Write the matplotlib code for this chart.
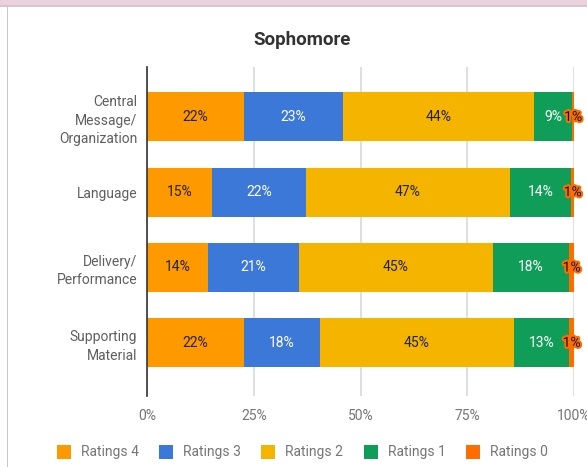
import matplotlib
matplotlib.use("Agg")
import matplotlib.pyplot as plt
import matplotlib.patheffects as pe
from matplotlib.patches import Rectangle
import numpy as np

plt.rcParams['font.family'] = ['Roboto', 'DejaVu Sans']

categories = ["Central\nMessage/\nOrganization", "Language", "Delivery/\nPerformance", "Supporting\nMaterial"]
series_names = ["Ratings 4", "Ratings 3", "Ratings 2", "Ratings 1", "Ratings 0"]
# segment shares (percent of each row)
ratings4 = [22.7, 15.2, 14.3, 22.7]
ratings3 = [23.3, 22.0, 21.3, 17.8]
ratings2 = [44.7, 47.8, 45.4, 45.4]
ratings1 = [9.1, 14.4, 17.9, 13.0]
ratings0 = [0.4, 0.6, 1.1, 1.1]
# labels as displayed on the bars
labels4 = ["22%", "15%", "14%", "22%"]
labels3 = ["23%", "22%", "21%", "18%"]
labels2 = ["44%", "47%", "45%", "45%"]
labels1 = ["9%", "14%", "18%", "13%"]
labels0 = ["1%", "1%", "1%", "1%"]
xticks = [0, 25, 50, 75, 100]
xtick_labels = ["0%", "25%", "50%", "75%", "100%"]

colors = ["#ff9900", "#3c78d8", "#f4b400", "#0f9d58", "#ff6d00"]
text_colors = ["#222222", "#ffffff", "#222222", "#ffffff", "#222222"]

W, H = 587, 467
fig = plt.figure(figsize=(W / 100, H / 100), dpi=100)

# page decorations
fig.patches.append(Rectangle((0, 1 - 5.5 / H), 1, 5.5 / H, transform=fig.transFigure,
                             facecolor="#ead1dc", edgecolor="none", zorder=0))
fig.patches.append(Rectangle((0, 1 - 6.5 / H), 1, 1 / H, transform=fig.transFigure,
                             facecolor="#d9c4cc", edgecolor="none", zorder=0))
fig.patches.append(Rectangle((7 / W, 0), 1.2 / W, 1 - 5.5 / H, transform=fig.transFigure,
                             facecolor="#c8c8c8", edgecolor="none", zorder=0))

ax_left, ax_right, ax_top, ax_bottom = 147, 574, 67, 396
ax = fig.add_axes([ax_left / W, 1 - ax_bottom / H, (ax_right - ax_left) / W, (ax_bottom - ax_top) / H])

data = np.array([ratings4, ratings3, ratings2, ratings1, ratings0])
totals = data.sum(axis=0)
pct = data / totals * 100
all_labels = [labels4, labels3, labels2, labels1, labels0]

y = np.arange(len(categories))
left = np.zeros(len(categories))
for i in range(len(series_names)):
    ax.barh(y, pct[i], left=left, height=0.65, color=colors[i], zorder=3, linewidth=0)
    for j in range(len(categories)):
        cx = left[j] + pct[i][j] / 2
        if i == 4:
            ax.text(cx, y[j], all_labels[i][j], ha="center", va="center", fontsize=10,
                    color="#111111", zorder=5, clip_on=False,
                    path_effects=[pe.withStroke(linewidth=3, foreground="#ff6d00")])
        else:
            ax.text(cx, y[j], all_labels[i][j], ha="center", va="center", fontsize=10,
                    color=text_colors[i], zorder=5)
    left += pct[i]

ax.set_xlim(0, 100)
ax.set_ylim(3 + 53.2 / 75.2, -49.9 / 75.2)
ax.set_yticks(y)
ax.set_yticklabels(categories, fontsize=10, color="#5f5f5f", linespacing=1.4)
ax.set_xticks(xticks)
ax.set_xticklabels(xtick_labels, fontsize=10, color="#757575")
ax.tick_params(axis="both", length=0)
ax.tick_params(axis="x", pad=9)
ax.tick_params(axis="y", pad=7)
for s in ["top", "right", "bottom"]:
    ax.spines[s].set_visible(False)
ax.spines["left"].set_color("#333333")
ax.spines["left"].set_linewidth(1.2)
ax.spines["left"].set_zorder(4)
ax.grid(axis="x", color="#d9d9d9", linewidth=1.2, zorder=0)
ax.set_axisbelow(True)

fig.text(302 / W, 1 - 40 / H, "Sophomore", ha="center", va="center", fontsize=13.5,
         fontweight="bold", color="#333333")

# legend
leg_x = [57, 159, 261, 364, 466]
leg_y = 452
for i, name in enumerate(series_names):
    fig.patches.append(Rectangle((leg_x[i] / W, 1 - (leg_y + 7) / H), 14 / W, 14 / H,
                                 transform=fig.transFigure, facecolor=colors[i], edgecolor="none"))
    fig.text((leg_x[i] + 24) / W, 1 - leg_y / H, name, ha="left", va="center",
             fontsize=10, color="#757575")

fig.savefig("out.png", dpi=100)
